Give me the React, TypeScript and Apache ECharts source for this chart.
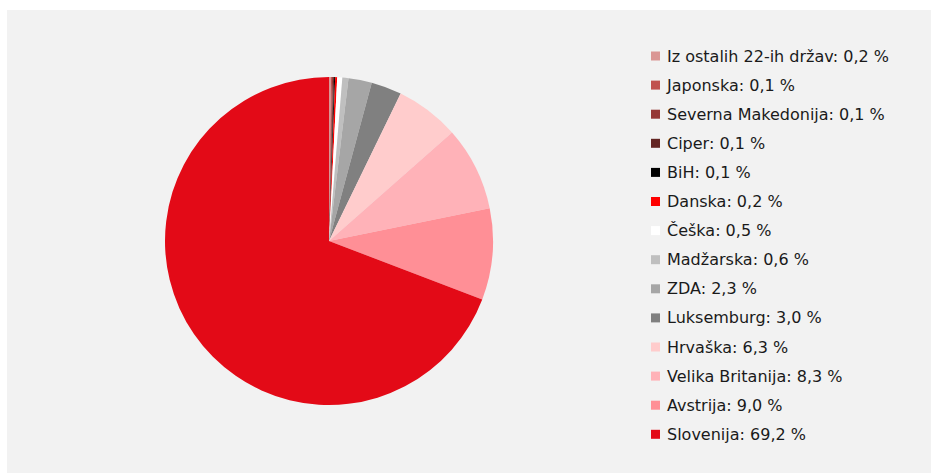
import React, { useEffect, useRef } from "react";
import * as echarts from "echarts";

const categories = [
  "Iz ostalih 22-ih držav",
  "Japonska",
  "Severna Makedonija",
  "Ciper",
  "BiH",
  "Danska",
  "Češka",
  "Madžarska",
  "ZDA",
  "Luksemburg",
  "Hrvaška",
  "Velika Britanija",
  "Avstrija",
  "Slovenija",
];

const values = [0.2, 0.1, 0.1, 0.1, 0.1, 0.2, 0.5, 0.6, 2.3, 3.0, 6.3, 8.3, 9.0, 69.2];

const colors = [
  "#DA9694",
  "#C0504D",
  "#953735",
  "#632523",
  "#000000",
  "#FF0000",
  "#FFFFFF",
  "#BFBFBF",
  "#A6A6A6",
  "#808080",
  "#FFCCCC",
  "#FFB2B8",
  "#FF8F96",
  "#E30A17",
];

export default function App() {
  const ref = useRef<HTMLDivElement>(null);
  useEffect(() => {
    if (!ref.current) return;
    const chart = echarts.init(ref.current, null, { renderer: "svg" });
    const valueMap: Record<string, number> = {};
    categories.forEach((c, i) => (valueMap[c] = values[i]));
    chart.setOption({
      animation: false,
      backgroundColor: "#ffffff",
      graphic: [
        {
          type: "rect",
          shape: { x: 7, y: 10, width: 924, height: 463 },
          style: { fill: "#f2f2f2" },
          z: -10,
        },
      ],
      legend: {
        orient: "vertical",
        left: 651,
        top: 46,
        padding: 0,
        itemWidth: 9,
        itemHeight: 9,
        itemGap: 9.1,
        icon: "rect",
        textStyle: {
          fontFamily: "DejaVu Sans",
          fontSize: 16,
          color: "#1a1a1a",
          lineHeight: 20,
          padding: [0, 0, 0, 2],
        },
        formatter: (name: string) =>
          `${name}: ${valueMap[name].toFixed(1).replace(".", ",")} %`,
        data: categories,
      },
      color: colors,
      series: [
        {
          type: "pie",
          center: [329, 241],
          radius: 164,
          startAngle: 90,
          clockwise: true,
          label: { show: false },
          labelLine: { show: false },
          emphasis: { disabled: true },
          itemStyle: { borderWidth: 0 },
          data: categories.map((c, i) => ({
            name: c,
            value: values[i],
            itemStyle: { color: colors[i] },
          })),
        },
      ],
    });
    return () => chart.dispose();
  }, []);
  return (
    <div
      ref={ref}
      style={{ position: "absolute", left: 0, top: 0, width: 931, height: 473 }}
    />
  );
}
